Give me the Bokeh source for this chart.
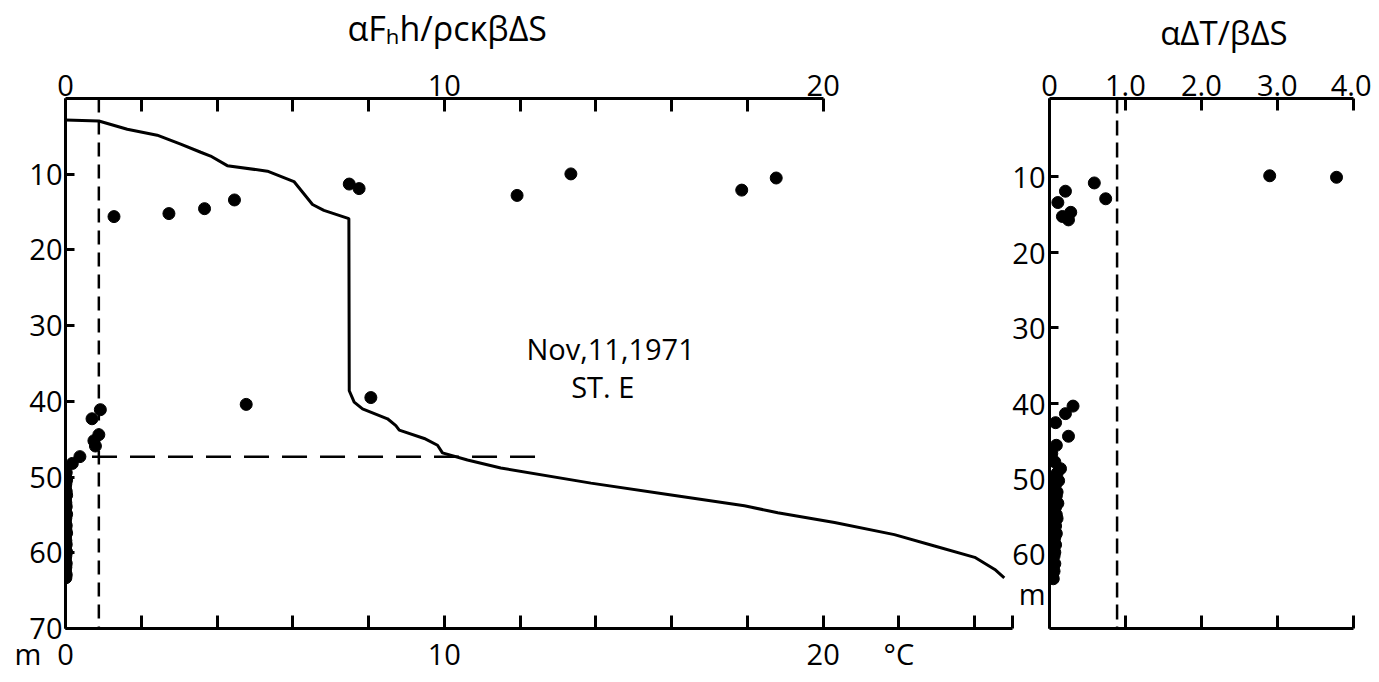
from bokeh.plotting import figure
from bokeh.models import Range1d, LinearAxis, FixedTicker, Label
from bokeh.layouts import row
from bokeh.embed import file_html
from bokeh.resources import INLINE

# ---------------- data ----------------
# temperature profile (deg C) vs depth (m)
temp_c = [0.0, 0.88, 1.63, 2.42, 3.04, 3.57, 3.83, 4.27, 5.33, 6.03, 6.52, 6.82,
          7.48, 7.49, 7.62, 7.84, 8.50, 8.72, 8.81, 9.47, 9.82, 9.95, 10.61, 11.49,
          13.87, 15.90, 17.92, 18.80, 20.30, 21.88, 22.94, 24.00, 24.53, 24.78]
temp_depth = [2.85, 2.97, 4.06, 4.85, 6.03, 7.10, 7.60, 8.87, 9.60, 10.97, 14.00, 14.77,
              15.86, 38.6, 40.1, 41.0, 42.3, 43.2, 43.8, 44.9, 45.8, 46.8, 47.75, 48.8,
              50.8, 52.3, 53.8, 54.7, 56.0, 57.6, 59.1, 60.6, 62.2, 63.3]

# alpha F_H h / rho c kappa beta dS  vs depth
flux_ratio = [1.28, 2.73, 3.67, 4.46, 7.49, 7.75, 11.92, 13.34, 17.85, 18.76,
              4.77, 8.06, 0.92, 0.70, 0.88, 0.75, 0.79, 0.38, 0.18,
              0.02, 0.00, 0.03, 0.01, 0.00, 0.02, 0.03, 0.00, 0.01, 0.02,
              0.00, 0.03, 0.01, 0.00, 0.02, 0.01, 0.03, 0.00, 0.01, 0.02,
              0.00, 0.03, 0.01, 0.00, 0.02, 0.01, 0.00, 0.02, 0.01]
flux_depth = [15.6, 15.2, 14.55, 13.4, 11.3, 11.9, 12.8, 9.96, 12.1, 10.5,
              40.4, 39.5, 41.1, 42.3, 44.4, 45.2, 45.9, 47.3, 48.2,
              49.4, 49.9, 50.4, 50.9, 51.4, 51.9, 52.4, 52.9, 53.4, 53.9,
              54.4, 54.9, 55.4, 55.9, 56.4, 56.9, 57.4, 57.9, 58.4, 58.9,
              59.4, 59.9, 60.4, 60.9, 61.4, 61.9, 62.4, 62.9, 63.3]

# alpha dT / beta dS  vs depth
ratio_x = [2.90, 3.78, 0.59, 0.21, 0.11, 0.74, 0.17, 0.28, 0.25,
           0.31, 0.21, 0.08, 0.25, 0.09, 0.03, 0.07, 0.145,
           0.10, 0.07, 0.12, 0.08, 0.06, 0.10, 0.09, 0.07, 0.11, 0.08,
           0.06, 0.09, 0.10, 0.07, 0.08, 0.05, 0.09, 0.07, 0.06, 0.08,
           0.05, 0.07, 0.06, 0.04, 0.07, 0.05, 0.06, 0.04, 0.05]
ratio_depth = [9.85, 10.05, 10.8, 11.9, 13.4, 12.9, 15.25, 14.7, 15.7,
               40.4, 41.4, 42.6, 44.4, 45.6, 46.7, 47.8, 48.7,
               49.3, 49.8, 50.3, 50.8, 51.3, 51.8, 52.3, 52.8, 53.3, 53.8,
               54.3, 54.8, 55.3, 55.8, 56.3, 56.8, 57.3, 57.8, 58.3, 58.8,
               59.3, 59.8, 60.3, 60.8, 61.3, 61.8, 62.3, 62.8, 63.3]

flux_critical = 0.88          # vertical dashed line (left panel)
mixed_depth = 47.3            # horizontal dashed line depth
mixed_x = [0.7, 12.6]         # horizontal dashed line extent
ratio_critical = 0.89         # vertical dashed line (right panel)

NB = "\u00a0"
depth_ticks = [10, 20, 30, 40, 50, 60, 70]
temp_major = [0, 0.001, 10, 20, 22]
temp_labels = {0: "0", 0.001: "m" + NB * 10, 10: "10", 20: "20", 22: "°C"}
temp_minor = [2, 4, 6, 8, 12, 14, 16, 18, 24, 25]
flux_major = [0, 10, 20]
flux_minor = [2, 4, 6, 8, 12, 14, 16, 18]
ratio_ticks = [0, 1, 2, 3, 4]
ratio_labels = {0: "0", 1: "1.0", 2: "2.0", 3: "3.0", 4: "4.0"}
right_depth_marks = [10, 20, 30, 40, 50, 60]
right_depth_labels_at = [10, 20, 30, 40, 50, 60, 65.3]
right_depth_labels = {65.3: "m"}

FONT = "Open Sans"
LBL = "29px"


def style_axis(ax, tick_len=13, standoff=8, size=LBL):
    ax.axis_line_width = 3
    ax.axis_line_color = "black"
    ax.major_tick_line_width = 3
    ax.minor_tick_line_width = 3
    ax.major_tick_line_color = "black"
    ax.minor_tick_line_color = "black"
    ax.major_tick_in = tick_len
    ax.major_tick_out = 0
    ax.minor_tick_in = tick_len
    ax.minor_tick_out = 0
    ax.major_label_text_font = FONT
    ax.major_label_text_font_size = size
    ax.major_label_text_color = "black"
    ax.major_label_standoff = standoff
    ax.axis_label_text_font = FONT
    ax.axis_label_text_font_style = "normal"
    ax.axis_label_text_color = "black"


# ---------------- left panel ----------------
p1 = figure(width=1014, height=682, x_range=Range1d(0, 25.05), y_range=Range1d(70, 0),
            output_backend="svg", toolbar_location=None,
            x_axis_location=None, y_axis_location=None,
            min_border_left=65, min_border_top=98, min_border_right=0, min_border_bottom=49)
p1.outline_line_color = None
p1.grid.visible = False
p1.background_fill_color = "white"
p1.border_fill_color = "white"

ax_b = LinearAxis(ticker=FixedTicker(ticks=temp_major, minor_ticks=temp_minor), bounds=(0, 25))
style_axis(ax_b, 13, 5)
ax_b.major_label_overrides = temp_labels
p1.add_layout(ax_b, "below")

ax_t = LinearAxis(ticker=FixedTicker(ticks=flux_major, minor_ticks=flux_minor), bounds=(0, 20))
style_axis(ax_t, 13, 3)
ax_t.axis_label = "αFₕh/ρcκβΔS" + NB * 21
ax_t.axis_label_text_font_size = "34px"
ax_t.axis_label_standoff = 21
p1.add_layout(ax_t, "above")

ax_l = LinearAxis(ticker=FixedTicker(ticks=depth_ticks), bounds=(0, 70))
style_axis(ax_l, 9, 3)
p1.add_layout(ax_l, "left")

p1.line([flux_critical, flux_critical], [0, 70], line_color="black", line_width=2.5,
        line_dash="14 8")
p1.line(mixed_x, [mixed_depth, mixed_depth], line_color="black", line_width=2.5,
        line_dash="25 13")
p1.line(temp_c, temp_depth, line_color="black", line_width=3)
p1.scatter(flux_ratio, flux_depth, size=12, color="black")

p1.add_layout(Label(x=14.39, y=32.96, text="Nov,11,1971", text_font=FONT, text_font_size=LBL,
                    text_align="center", text_baseline="middle", text_color="black"))
p1.add_layout(Label(x=14.18, y=38.1, text="ST. E", text_font=FONT, text_font_size=LBL,
                    text_align="center", text_baseline="middle", text_color="black"))

# ---------------- right panel ----------------
p2 = figure(width=387, height=682, x_range=Range1d(0, 4.03), y_range=Range1d(69.9, -0.4),
            output_backend="svg", toolbar_location=None,
            x_axis_location=None, y_axis_location=None,
            min_border_left=65, min_border_top=94, min_border_right=16, min_border_bottom=54)
p2.outline_line_color = None
p2.grid.visible = False
p2.background_fill_color = None
p2.border_fill_color = None
p2.margin = (0, 0, 0, -30)

ax2_t = LinearAxis(ticker=FixedTicker(ticks=ratio_ticks), bounds=(0, 4))
style_axis(ax2_t, 12, 3)
ax2_t.major_label_overrides = ratio_labels
ax2_t.axis_label = NB * 5 + "αΔT/βΔS"
ax2_t.axis_label_text_font_size = "33px"
ax2_t.axis_label_standoff = 17
p2.add_layout(ax2_t, "above")

ax2_b = LinearAxis(ticker=FixedTicker(ticks=ratio_ticks), bounds=(0, 4))
style_axis(ax2_b, 13, 0, "0px")
ax2_b.major_label_text_color = None
p2.add_layout(ax2_b, "below")

ax2_l = LinearAxis(ticker=FixedTicker(ticks=right_depth_labels_at, minor_ticks=right_depth_marks),
                   bounds=(-0.4, 69.9))
style_axis(ax2_l, 9, 4)
ax2_l.major_tick_in = 0
ax2_l.major_label_overrides = right_depth_labels
p2.add_layout(ax2_l, "left")

p2.line([ratio_critical, ratio_critical], [-0.4, 69.9], line_color="black", line_width=2.5,
        line_dash="15 7")
p2.scatter(ratio_x, ratio_depth, size=12, color="black")

layout = row(p1, p2)
open("out.html", "w").write(file_html(layout, INLINE))
